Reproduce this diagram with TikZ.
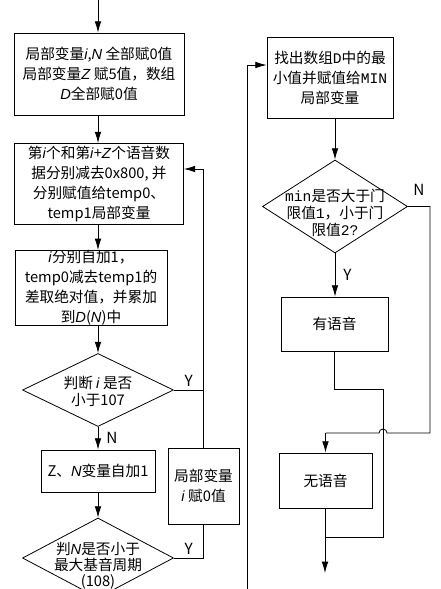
\documentclass[tikz,border=0pt]{standalone}
\usepackage{fontspec}
\setmainfont{Noto Sans CJK SC}[ItalicFont={Liberation Sans Italic}]
\setmonofont{Liberation Mono}
\usetikzlibrary{shapes.geometric,arrows.meta,calc}

\begin{document}
\begin{tikzpicture}[x=0.75pt,y=-0.75pt,
    box/.style={draw,line width=0.6pt,align=center,inner sep=0pt,font=\fontsize{11pt}{15pt}\selectfont},
    dia/.style={draw,diamond,line width=0.6pt,inner sep=0pt},
    dtext/.style={align=center,inner sep=0pt,font=\fontsize{11pt}{12.8pt}\selectfont},
    lbl/.style={font=\fontsize{11.5pt}{12pt}\selectfont,inner sep=2pt},
    line/.style={line width=0.6pt},
    arr/.style={line width=0.6pt,-{Latex[length=8.5pt,width=5pt]}}]
  \useasboundingbox (0,0) rectangle (441,589);
  \coordinate (in) at (98,0);
  \node[box,minimum width=127.5pt,minimum height=61.5pt] (b1) at (99,74)
    {局部变量\textit{i},\textit{N} 全部赋0值\\局部变量\textit{Z} 赋5值，数组\\\textit{D}全部赋0值};
  \node[box,minimum width=126.75pt,minimum height=60.75pt] (b2) at (99,184)
    {第\textit{i}个和第\textit{i}+\textit{Z}个语音数\\据分别减去0x800, 并\\分别赋值给temp0、\\temp1局部变量};
  \node[box,minimum width=114pt,minimum height=55.5pt] (b3) at (91,288)
    {\textit{i}分别自加1，\\temp0减去temp1的\\差取绝对值，并累加\\到\textit{D}(\textit{N})中};
  \node[dia,minimum width=113.25pt,minimum height=54.75pt] (d1) at (98,390) {};
  \node[dtext] (t1) at (98,391) {判断 \textit{i} 是否\\小于107};
  \node[box,minimum width=85.5pt,minimum height=31.5pt] (b4) at (98,471) {Z、\textit{N}变量自加1};
  \node[dia,minimum width=113.25pt,minimum height=60pt] (d2) at (98,558) {};
  \node[dtext,font=\fontsize{11pt}{12pt}\selectfont] (t2) at (98,566) {判\textit{N}是否小于\\最大基音周期\\(108)};
  \node[box,minimum width=53.25pt,minimum height=57pt] (b5) at (203.5,486) {局部变量\\\textit{i} 赋0值};
  \node[box,minimum width=94.5pt,minimum height=60.75pt] (b6) at (330,77.5)
    {找出数组\texttt{D}中的最\\小值并赋值给\texttt{MIN}\\局部变量};
  \node[dia,minimum width=108.75pt,minimum height=69.75pt] (d3) at (335,206.5) {};
  \node[dtext] (t3) at (335,213) {\texttt{min}是否大于门\\限值\texttt{1}，小于门\\限值\texttt{2?}};
  \node[box,minimum width=80.25pt,minimum height=40.5pt] (b7) at (334.5,324) {有语音};
  \node[box,minimum width=69.75pt,minimum height=41.25pt] (b8) at (325.5,480.5) {无语音};
  \coordinate (fb) at (203,169);
  \coordinate (lb) at (247,600);
  \coordinate (lt) at (247,65);
  \coordinate (nr) at (430,433);
  \coordinate (jx) at (383,389);
  \coordinate (jb) at (383,537);
  \coordinate (out) at (325,573);

  \draw[arr] (in) -- (in |- b1.north);
  \draw[arr] (b1.south -| in) -- (b2.north -| in);
  \draw[arr] (b2.south -| in) -- (b3.north -| in);
  \draw[arr] (b3.south -| in) -- (d1.north -| in);
  \draw[arr] (d1.south) -- node[lbl,right,xshift=4pt] {N} (b4.north);
  \draw[arr] (b4.south) -- (d2.north);
  \draw[line] (d1.east) -- node[lbl,above] {Y} (d1.east -| b5.north);
  \draw[arr] (b5.north) -- (b5.north |- fb) -- (fb -| b2.east);
  \draw[line] (d2.east) -- node[lbl,above] {Y} (d2.east -| b5.south) -- (b5.south);
  \draw[arr] (lb) -- (lt) -- (lt -| b6.west);
  \draw[arr] (b6.south -| d3.north) -- (d3.north);
  \draw[arr] (d3.south) -- node[lbl,right,xshift=4pt] {Y} (d3.south |- b7.north);
  \draw[line] (d3.east) -- node[lbl,above,yshift=6pt] {N} (d3.east -| nr) -- (nr)
    -- ($(jx |- nr)+(4,0)$) arc[start angle=0,end angle=-180,radius=4]
    -- (b8.north |- nr);
  \draw[arr] (b8.north |- nr) -- (b8.north);
  \draw[line] (b7.south) -- (b7.south |- jx) -- (jx) -- (jb) -- (jb -| out);
  \draw[arr] (b8.south -| out) -- (out);
\end{tikzpicture}
\end{document}
